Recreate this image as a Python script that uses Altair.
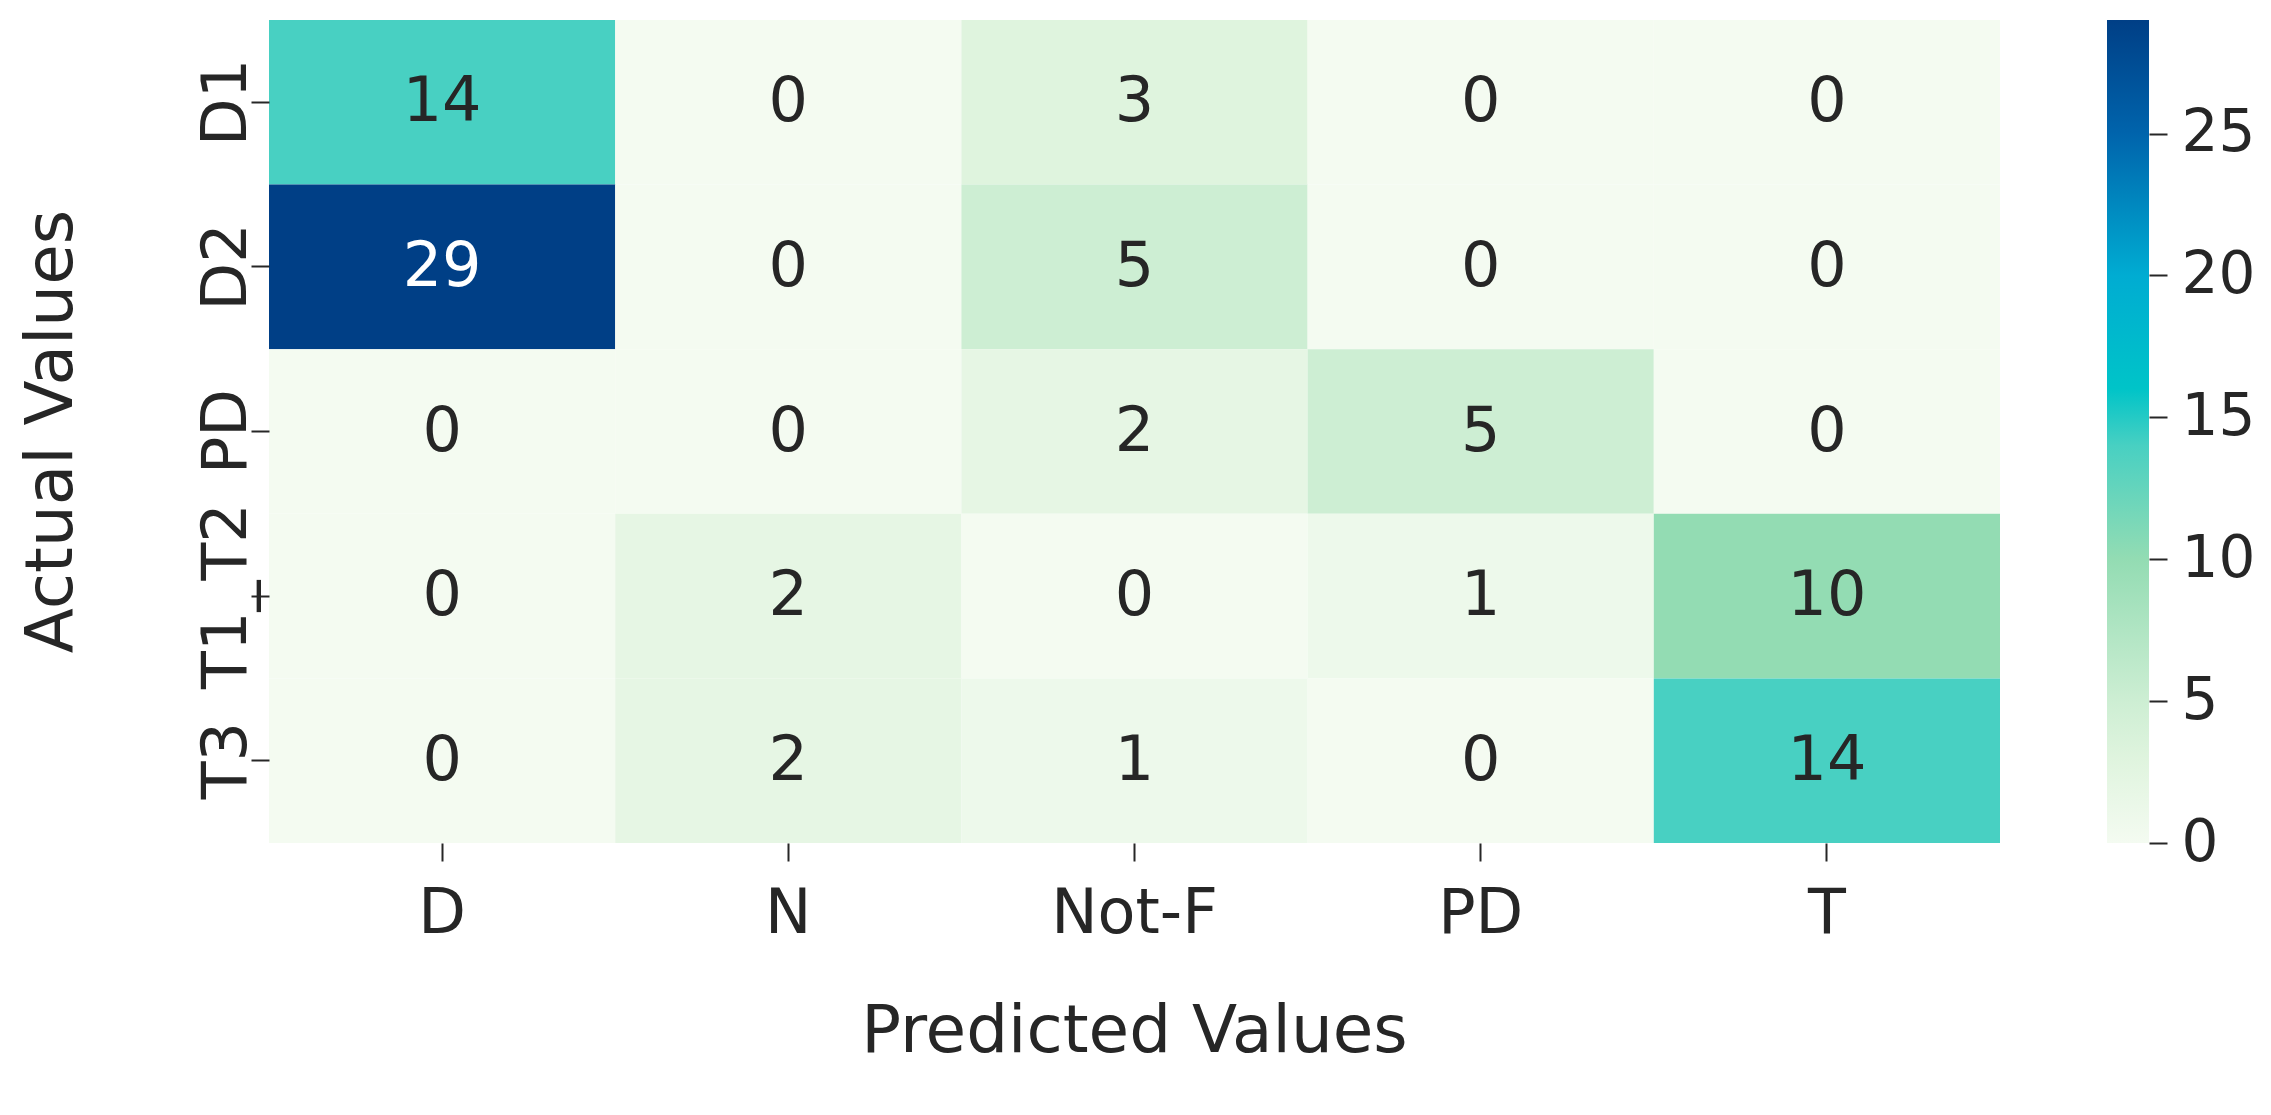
import altair as alt
import pandas as pd

actual = ["D1", "D2", "PD", "T1_T2", "T3"]
predicted = ["D", "N", "Not-F", "PD", "T"]
counts = [
    [14, 0, 3, 0, 0],
    [29, 0, 5, 0, 0],
    [0, 0, 2, 5, 0],
    [0, 2, 0, 1, 10],
    [0, 2, 1, 0, 14],
]
cbar_ticks = [0, 5, 10, 15, 20, 25]
stop_values = [0, 3, 5, 10, 14, 16, 20, 25, 29]
stop_colors = ["#f4fbf1", "#dff4de", "#cdeed3", "#93dcb3", "#48d0c2",
               "#00c4c8", "#00acd2", "#0064ac", "#003f86"]

rows = []
for i, a in enumerate(actual):
    for j, p in enumerate(predicted):
        rows.append({"actual": a, "predicted": p, "count": counts[i][j]})
df = pd.DataFrame(rows)
vmax = max(max(r) for r in counts)
cb_df = pd.DataFrame({"lo": [0], "hi": [vmax]})

FONT = "DejaVu Sans"
TXT = "#262626"
FS = 62
TFS = 66

x_enc = alt.X(
    "predicted:N", sort=predicted,
    scale=alt.Scale(paddingInner=0, paddingOuter=0),
    axis=alt.Axis(
        title="Predicted Values", labelAngle=0, labelFont=FONT, labelFontSize=FS,
        labelColor=TXT, tickSize=18, tickWidth=2, tickColor=TXT, domain=False,
        labelPadding=22, titleFont=FONT, titleFontSize=TFS, titleFontWeight="normal",
        titleColor=TXT, titleX=865, titleY=188, titleBaseline="middle", titleAlign="center",
    ),
)
y_enc = alt.Y(
    "actual:N", sort=actual,
    scale=alt.Scale(paddingInner=0, paddingOuter=0),
    axis=alt.Axis(
        orient="left", title="Actual Values", labelAngle=-90, labelAlign="center",
        labelBaseline="alphabetic", labelFont=FONT, labelFontSize=FS, labelColor=TXT,
        labelLimit=0, tickSize=18, tickWidth=2, tickColor=TXT, domain=False, labelPadding=6,
        titleFont=FONT, titleFontSize=TFS, titleFontWeight="normal", titleColor=TXT,
        titleAngle=270, titleX=-218, titleY=411, titleBaseline="middle", titleAlign="center",
    ),
)

color_scale = alt.Scale(domain=stop_values, range=stop_colors, interpolate="rgb")

base = alt.Chart(df)
heat = base.mark_rect().encode(
    x=x_enc, y=y_enc,
    color=alt.Color("count:Q", scale=color_scale, legend=None),
)
labels = base.mark_text(font=FONT, fontSize=FS, baseline="middle", align="center").encode(
    x=alt.X("predicted:N", sort=predicted),
    y=alt.Y("actual:N", sort=actual),
    text="count:Q",
    color=alt.condition(alt.datum["count"] > 20, alt.value("white"), alt.value(TXT)),
)
matrix = alt.layer(heat, labels)

grad = alt.LinearGradient(
    gradient="linear",
    stops=[alt.GradientStop(color=c, offset=v / vmax) for v, c in zip(stop_values, stop_colors)],
    x1=0, x2=0, y1=1, y2=0,
)
cbar = alt.Chart(cb_df).mark_rect(color=grad).encode(
    x=alt.value(1838), x2=alt.value(1880),
    y=alt.Y("lo:Q", scale=alt.Scale(domain=[0, vmax], nice=False, zero=True),
            axis=alt.Axis(orient="right", offset=149, values=cbar_ticks, title=None,
                          domain=False, grid=False, labelFont=FONT, labelFontSize=58,
                          labelColor=TXT, tickSize=18, tickWidth=2, tickColor=TXT,
                          labelPadding=14, labelBaseline="middle", labelLimit=0)),
    y2="hi:Q",
)

chart = alt.layer(matrix, cbar).resolve_scale(y="independent").properties(
    width=1731, height=823,
    autosize=alt.AutoSizeParams(type="none"),
    padding={"left": 261, "top": 12, "right": 262, "bottom": 250},
).configure_view(stroke=None)

chart.save("out.html", embed_options={"renderer": "svg", "actions": False})
